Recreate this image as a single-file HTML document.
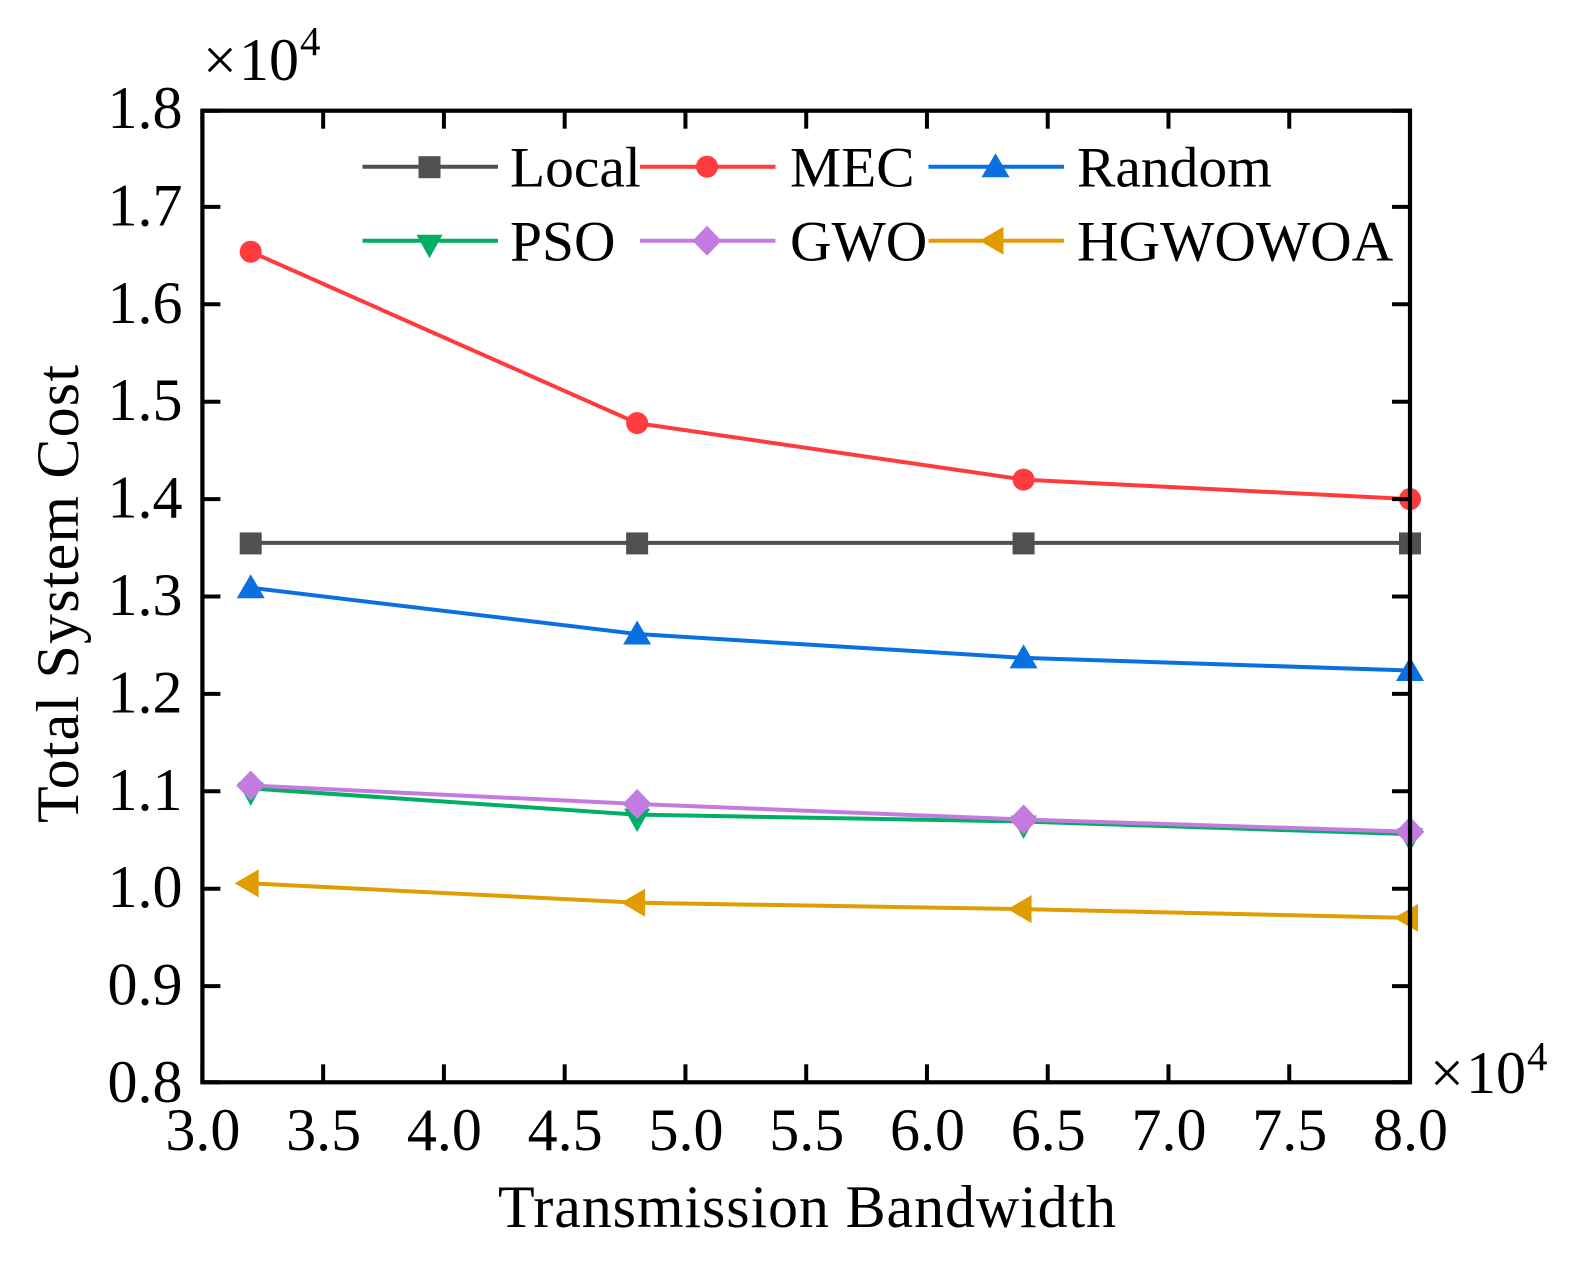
<!DOCTYPE html>
<html lang="en">
<head>
<meta charset="utf-8">
<title>Total System Cost vs Transmission Bandwidth</title>
<style>
html,body{margin:0;padding:0;background:#fff;width:1570px;height:1261px;overflow:hidden}
svg{display:block;font-family:"Liberation Serif",serif;fill:#000}
</style>
</head>
<body>
<svg id="chart" xmlns="http://www.w3.org/2000/svg" width="1570" height="1261" viewBox="0 0 1570 1261"></svg>
<script>
var bandwidth = [3.2, 4.8, 6.4, 8.0];
var localCost = [1.355, 1.355, 1.355, 1.355];
var mecCost = [1.654, 1.478, 1.420, 1.400];
var randomCost = [1.309, 1.2615, 1.237, 1.224];
var psoCost = [1.103, 1.076, 1.069, 1.056];
var gwoCost = [1.106, 1.087, 1.071, 1.0585];
var hgwowoaCost = [1.0055, 0.9856, 0.979, 0.970];
var xTickLabels = ['3.0','3.5','4.0','4.5','5.0','5.5','6.0','6.5','7.0','7.5','8.0'];
var yTickLabels = ['0.8','0.9','1.0','1.1','1.2','1.3','1.4','1.5','1.6','1.7','1.8'];
var seriesNames = ['Local','MEC','Random','PSO','GWO','HGWOWOA'];

var NS = 'http://www.w3.org/2000/svg';
var svg = document.getElementById('chart');
var L = 202.4, R = 1410, T = 110.7, B = 1082.3;
var scaleTop = 109.5, scaleBottom = 1083.5;
function xScale(v){ return L + (v - 3.0) / 5.0 * (R - L); }
function yScale(v){ return scaleBottom - (v - 0.8) / 1.0 * (scaleBottom - scaleTop); }

function make(tag, attrs, parent){
  var el = document.createElementNS(NS, tag);
  for (var k in attrs) el.setAttribute(k, attrs[k]);
  (parent || svg).appendChild(el);
  return el;
}
function drawMarker(kind, cx, cy, color, parent){
  var el;
  if (kind === 'square') el = make('rect', {x:cx-11, y:cy-10.5, width:22, height:22, fill:color}, parent);
  if (kind === 'circle') el = make('circle', {cx:cx, cy:cy, r:11, fill:color}, parent);
  if (kind === 'up') el = make('polygon', {points:(cx-14)+','+(cy+10.5)+' '+(cx+14)+','+(cy+10.5)+' '+cx+','+(cy-13.5), fill:color}, parent);
  if (kind === 'down') el = make('polygon', {points:(cx-13)+','+(cy-6)+' '+(cx+13)+','+(cy-6)+' '+cx+','+(cy+17.5), fill:color}, parent);
  if (kind === 'diamond') el = make('polygon', {points:cx+','+(cy-15)+' '+(cx+14.5)+','+cy+' '+cx+','+(cy+15)+' '+(cx-14.5)+','+cy, fill:color}, parent);
  if (kind === 'left') el = make('polygon', {points:(cx-16)+','+cy+' '+(cx+8)+','+(cy-14)+' '+(cx+8)+','+(cy+14), fill:color}, parent);
  
  
  return el;
}

var seriesValues = [localCost, mecCost, randomCost, psoCost, gwoCost, hgwowoaCost];
var seriesColors = ['#505050','#ff3b3e','#0a6fe0','#00ae66','#c47be0','#e09c00'];
var seriesMarkers = ['square','circle','up','down','diamond','left'];
var drawOrder = [0,1,2,3,4,5];

drawOrder.forEach(function(i){
  var g = make('g', {});
  
  
  var pts = bandwidth.map(function(x, j){ return xScale(x) + ',' + yScale(seriesValues[i][j]); }).join(' ');
  var line = make('polyline', {points:pts, fill:'none', stroke:seriesColors[i], 'stroke-width':4}, g);
  
  
  bandwidth.forEach(function(x, j){
    drawMarker(seriesMarkers[i], xScale(x), yScale(seriesValues[i][j]), seriesColors[i], g);
  });
});

/* axes frame and ticks */
var axes = make('g', {});


var frame = make('rect', {x:L, y:T, width:R-L, height:B-T, fill:'none', stroke:'#000', 'stroke-width':4.2}, axes);



xTickLabels.forEach(function(label){
  var x = xScale(parseFloat(label));
  var t1 = make('line', {x1:x, x2:x, y1:B, y2:B-18, stroke:'#000', 'stroke-width':4}, axes);
  
  
  var t2 = make('line', {x1:x, x2:x, y1:T, y2:T+18, stroke:'#000', 'stroke-width':4}, axes);
  
  
  var tx = make('text', {x:x+0.5, y:1150, 'font-size':60, 'text-anchor':'middle'}, axes);
  tx.textContent = label;
  
  
});
yTickLabels.forEach(function(label){
  var y = yScale(parseFloat(label));
  var tickY = Math.max(T, Math.min(B, y));
  var t1 = make('line', {x1:L, x2:L+18, y1:tickY, y2:tickY, stroke:'#000', 'stroke-width':4}, axes);
  
  
  var t2 = make('line', {x1:R, x2:R-18, y1:tickY, y2:tickY, stroke:'#000', 'stroke-width':4}, axes);
  
  
  var tx = make('text', {x:182.5, y:y+18.5, 'font-size':60, 'text-anchor':'end'}, axes);
  tx.textContent = label;
  
  
});

/* legend */
var legend = make('g', {});


var legendColumns = [362.5, 640, 928.5];
var legendTextColumns = [510, 790, 1077];
var legendRows = [166.7, 240.7];
seriesNames.forEach(function(name, i){
  var col = i % 3, row = Math.floor(i / 3);
  var x0 = legendColumns[col], cy = legendRows[row];
  var g = make('g', {}, legend);
  
  
  make('line', {x1:x0, x2:x0+135.5, y1:cy, y2:cy, stroke:seriesColors[i], 'stroke-width':4}, g);
  drawMarker(seriesMarkers[i], x0+67, cy, seriesColors[i], g);
  var t = make('text', {x:legendTextColumns[col], y:cy+20, 'font-size':57.5}, g);
  t.textContent = name;
});

/* axis titles */
var xTitle = make('text', {x:498, y:1227, 'font-size':60, textLength:618, lengthAdjust:'spacing'});
xTitle.textContent = 'Transmission Bandwidth';



var yTitle = make('text', {transform:'translate(78,823) rotate(-90)', 'font-size':60, textLength:458, lengthAdjust:'spacing'});
yTitle.textContent = 'Total System Cost';



/* axis multipliers */
function multiplier(x, y, supDrop, name){
  var g = make('g', {});
  
  
  var a = make('text', {x:x, y:y, 'font-size':60}, g);
  a.textContent = '\u00D7';
  var b = make('text', {x:x+36, y:y, 'font-size':60}, g);
  b.textContent = '10';
  var c = make('text', {x:x+97, y:y-supDrop, 'font-size':41}, g);
  c.textContent = '4';
}
multiplier(203, 80, 25, 'y-axis-multiplier');
multiplier(1430, 1093, 23, 'x-axis-multiplier');
</script>
</body>
</html>
